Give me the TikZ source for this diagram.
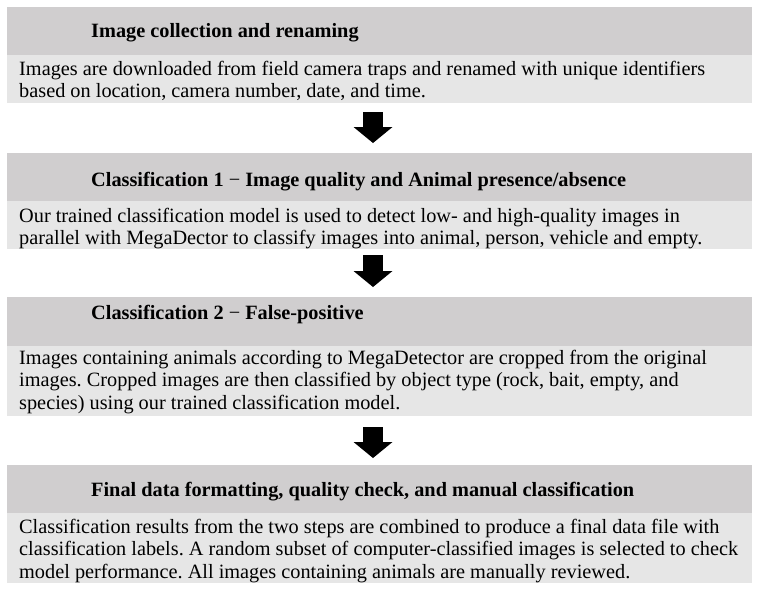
\documentclass[tikz,border=0pt]{standalone}
\usepackage{fontspec}
\setmainfont{Liberation Serif}
\usetikzlibrary{arrows.meta}
\definecolor{hdrgray}{RGB}{208,206,207}
\definecolor{bodygray}{RGB}{230,230,230}
\frenchspacing
\begin{document}
\begin{tikzpicture}[x=1pt,y=-1pt,
  panel/.style={draw=none, rectangle, inner sep=0pt, outer sep=0pt, anchor=north west, minimum width=745pt},
  hdr/.style={panel, fill=hdrgray, minimum height=48pt},
  bdy/.style={panel, fill=bodygray},
  htext/.style={anchor=base west, inner sep=0pt, font=\fontsize{20.3}{22.5}\selectfont\bfseries},
  btext/.style={anchor=base west, inner sep=0pt, align=left, font=\fontsize{20.3}{22.5}\selectfont},
  flow/.style={draw=black, line width=20pt, -{Triangle[width=39pt,length=16pt,line width=0pt]}}
]
\fill[white] (0,0) rectangle (759,590);
\useasboundingbox (0,0) rectangle (759,590);

% panels
\node[hdr] (h1) at (7,7) {};
\node[bdy, minimum height=48pt] (b1) at (7,55) {};
\node[hdr] (h2) at (7,153) {};
\node[bdy, minimum height=48pt] (b2) at (7,201) {};
\node[hdr, minimum height=49pt] (h3) at (7,297) {};
\node[bdy, minimum height=70pt] (b3) at (7,346) {};
\node[hdr] (h4) at (7,465) {};
\node[bdy, minimum height=70pt] (b4) at (7,513) {};

% headings
\node[htext] (h1t) at (91,37) {Image collection and renaming};
\node[htext] (h2t) at (91,186) {Classification 1 {\mdseries −} Image quality and Animal presence/absence};
\node[htext] (h3t) at (91,319) {Classification 2 {\mdseries −} False-positive};
\node[htext] (h4t) at (91,496) {Final data formatting, quality check, and manual classification};

% body texts (anchored at the baseline of the last line)
\node[btext] (b1t) at (19,97.5) {Images are downloaded from field camera traps and renamed with unique identifiers\\based on location, camera number, date, and time.};
\node[btext] (b2t) at (19,244.5) {Our trained classification model is used to detect low- and high-quality images in\\parallel with MegaDector to classify images into animal, person, vehicle and empty.};
\node[btext] (b3t) at (19,409) {Images containing animals according to MegaDetector are cropped from the original\\images. Cropped images are then classified by object type (rock, bait, empty, and\\species) using our trained classification model.};
\node[btext] (b4t) at (19,578) {Classification results from the two steps are combined to produce a final data file with\\classification labels. A random subset of computer-classified images is selected to check\\model performance. All images containing animals are manually reviewed.};

% arrows
\draw[flow, shorten <=9pt, shorten >=10pt] ([xshift=-6.5pt]b1.south) -- ([xshift=-6.5pt]h2.north);
\draw[flow, shorten <=6pt, shorten >=10pt] ([xshift=-6.5pt]b2.south) -- ([xshift=-6.5pt]h3.north);
\draw[flow, shorten <=11pt, shorten >=7pt] ([xshift=-6.5pt]b3.south) -- ([xshift=-6.5pt]h4.north);
\end{tikzpicture}
\end{document}
